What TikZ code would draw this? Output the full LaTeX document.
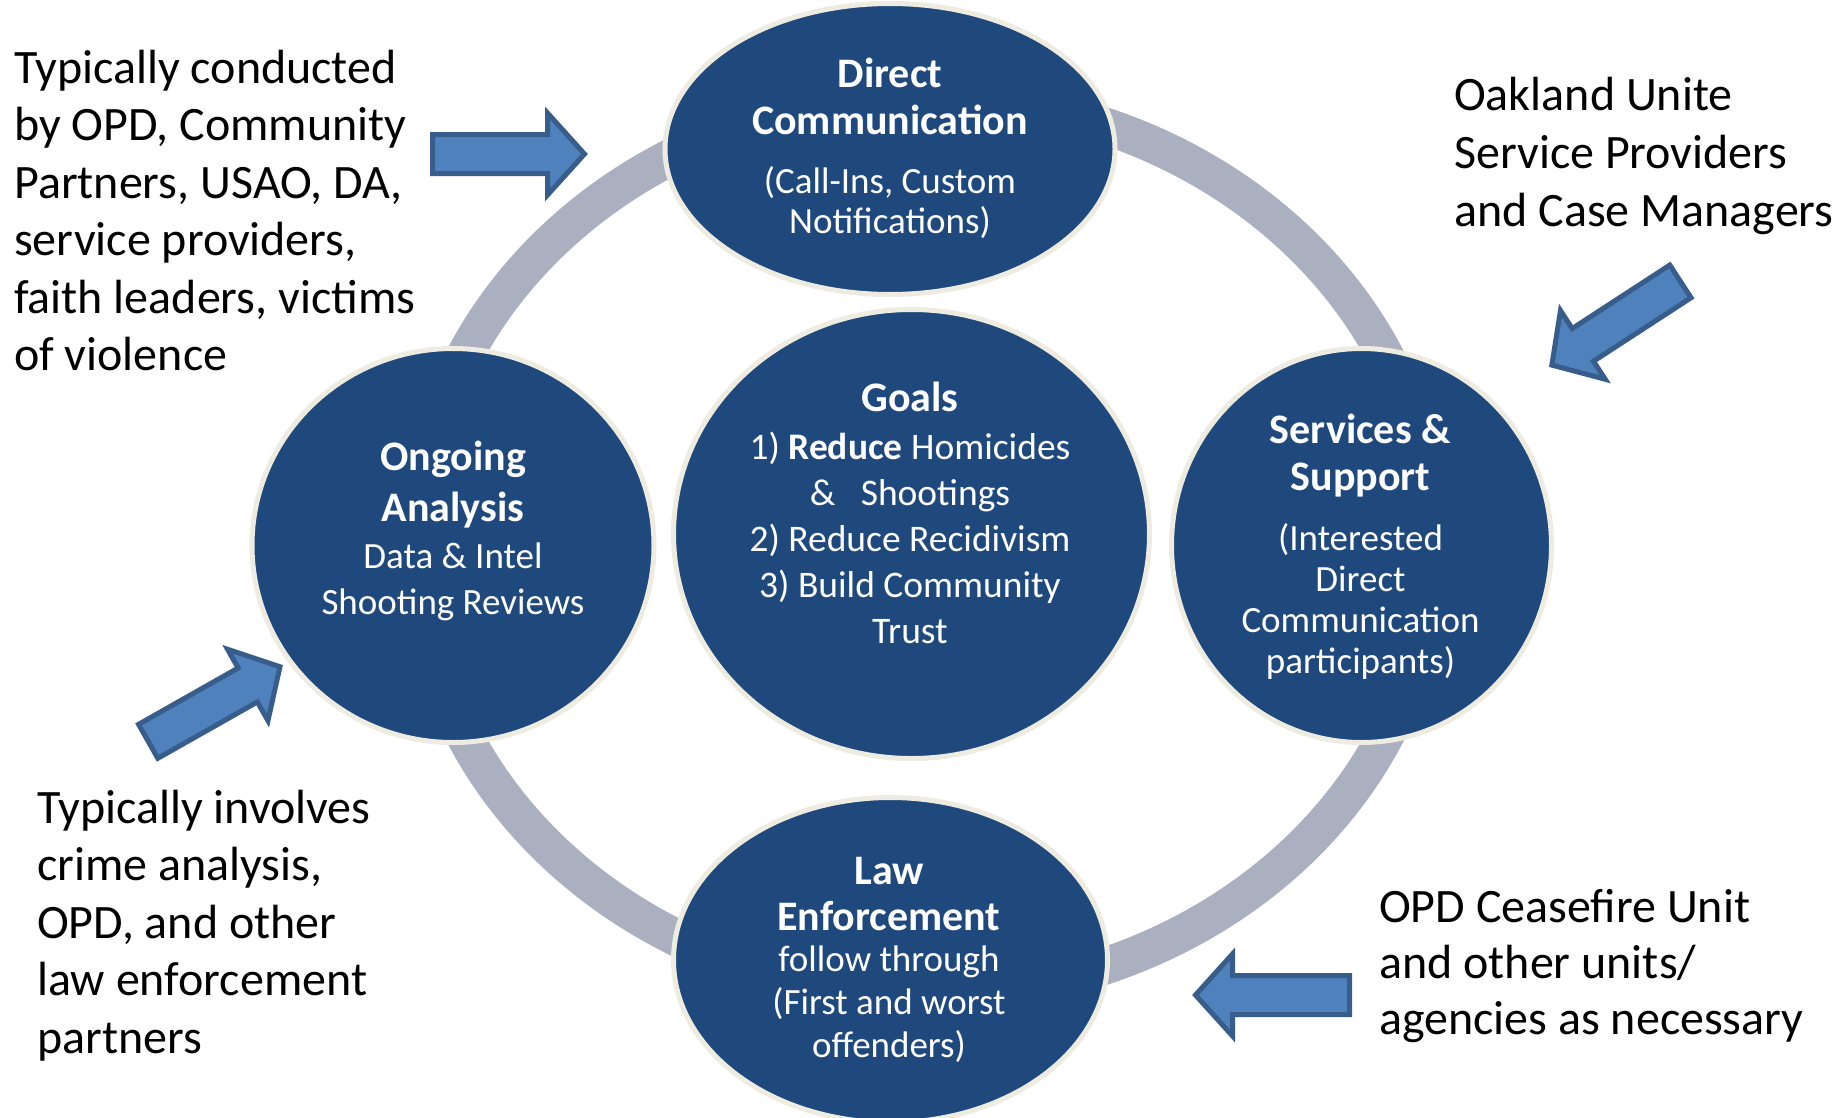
\documentclass[tikz,border=0pt]{standalone}
\usepackage{fontspec}
\setmainfont{Carlito}
\usetikzlibrary{shapes.geometric}
\definecolor{nodeblue}{HTML}{1F497D}
\definecolor{cream}{HTML}{EEECE1}
\definecolor{ringgray}{HTML}{ABB0C0}
\definecolor{arrowfill}{HTML}{4F81BD}
\definecolor{arrowline}{HTML}{385D8A}
\newcommand{\ns}{\spaceskip=\fontdimen2\font\relax\xspaceskip=\fontdimen2\font\relax}
\newcommand{\fs}[2]{\fontsize{#1}{#2}\selectfont\ns}
\newcommand{\barrow}[4]{%
  \begin{scope}[shift={(#1,#2)}, rotate=#3]
    \draw[blockarrow] (0,-19.5) -- (#4-37,-19.5) -- (#4-37,-41) -- (#4,0)
      -- (#4-37,41) -- (#4-37,19.5) -- (0,19.5) -- cycle;
  \end{scope}}
\begin{document}
\begin{tikzpicture}[x=1pt,y=-1pt,
  bubble/.style={ellipse, draw=cream, line width=5pt, fill=nodeblue, inner sep=0pt, outer sep=0pt},
  intext/.style={text=white, text width=440pt, align=center, anchor=base, inner sep=0pt},
  sidetext/.style={text=black, text width=480pt, align=left, anchor=base west, inner sep=0pt, font=\fs{48}{57.5}},
  ringline/.style={draw=ringgray, line width=37pt},
  blockarrow/.style={fill=arrowfill, draw=arrowline, line width=5pt, line join=miter}]

\useasboundingbox (0,0) rectangle (1839,1117);
\fill[white] (0,0) rectangle (1839,1117);

% ring
\draw[ringline] (925,546) ellipse [x radius=508pt, y radius=449pt];

% block arrows
\barrow{432.5}{154}{0}{152}
\barrow{1680.4}{281.4}{213.06}{153.4}
\barrow{148.2}{741.3}{29.5}{151.4}
\barrow{1349.5}{995}{180}{154}

% bubbles
\node[bubble, minimum width=450pt, minimum height=291pt] (dc) at (890,149) {};
\node[bubble, minimum width=476pt, minimum height=449pt] (goals) at (911.5,534) {};
\node[bubble, minimum width=402pt, minimum height=394pt] (ongoing) at (453,545.5) {};
\node[bubble, minimum width=380pt, minimum height=394pt] (services) at (1361.5,545.5) {};
\node[bubble, minimum width=434pt, minimum height=325pt] (law) at (890.5,960) {};

% bubble texts
\node[intext] (dctext) at (890,87) {{\bfseries\fs{42}{47}Direct\\Communication\par}\vskip19pt{\fs{37}{40}(Call-Ins, Custom\\Notifications)\par}};
\node[intext] (goalstext) at (910,411.7) {{\bfseries\fs{42}{46}Goals\par}\vskip1.6pt{\fs{37.5}{46}1) \textbf{Reduce} Homicides\\\&\ \ \ Shootings\\2) Reduce Recidivism\\3) Build Community\\Trust\par}};
\node[intext] (ongoingtext) at (453,470) {{\bfseries\fs{42}{51}Ongoing\\Analysis\par}\vskip1pt{\fs{37}{46}Data \& Intel\\Shooting Reviews\par}};
\node[intext] (servicestext) at (1360.5,443) {{\bfseries\fs{42}{47}Services \&\\Support\par}\vskip19pt{\fs{37}{41}(Interested\\Direct\\Communication\\participants)\par}};
\node[intext] (lawtext) at (889,884) {{\bfseries\fs{42}{46}Law\\Enforcement\par}\vskip-2pt{\fs{37}{43}follow through\\(First and worst\\offenders)\par}};

% side texts
\node[sidetext] (tltext) at (14,83) {\ns Typically conducted\\by OPD, Community\\Partners, USAO, DA,\\service providers,\\faith leaders, victims\\of violence};
\node[sidetext, font=\fs{48}{58}] (trtext) at (1454,110) {\ns Oakland Unite\\Service Providers\\and Case Managers};
\node[sidetext] (bltext) at (37,823) {\ns Typically involves\\crime analysis,\\OPD, and other\\law enforcement\\partners};
\node[sidetext, font=\fs{48}{56}] (brtext) at (1379,922) {\ns OPD Ceasefire Unit\\and other units/\\agencies as necessary};
\end{tikzpicture}
\end{document}
